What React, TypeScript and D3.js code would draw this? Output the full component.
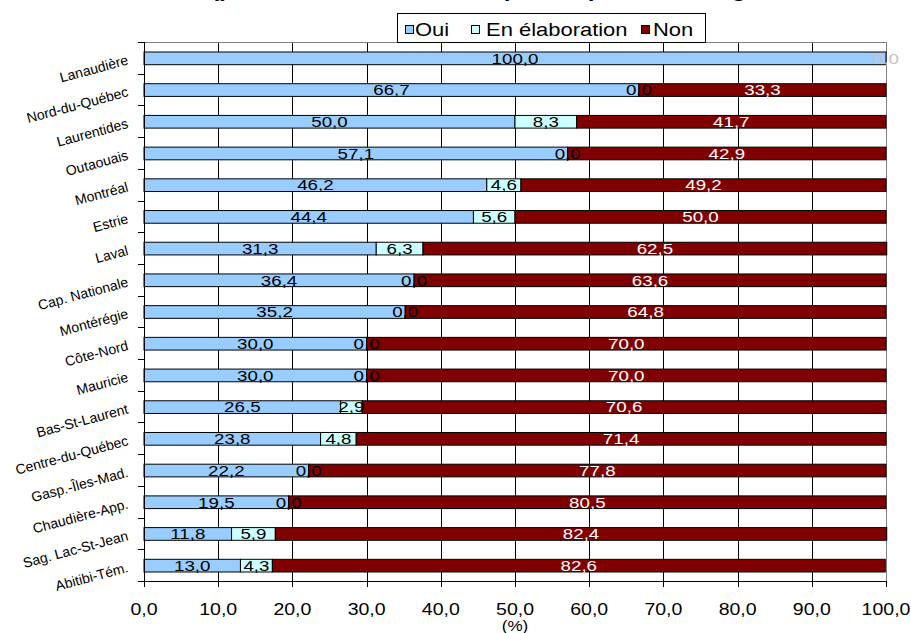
import React from "react";
import * as d3 from "d3";

const regions = [
  "Lanaudière", "Nord-du-Québec", "Laurentides", "Outaouais", "Montréal", "Estrie",
  "Laval", "Cap. Nationale", "Montérégie", "Côte-Nord", "Mauricie", "Bas-St-Laurent",
  "Centre-du-Québec", "Gasp.-Îles-Mad.", "Chaudière-App.", "Sag. Lac-St-Jean", "Abitibi-Tém.",
];
const oui = [100.0, 66.7, 50.0, 57.1, 46.2, 44.4, 31.3, 36.4, 35.2, 30.0, 30.0, 26.5, 23.8, 22.2, 19.5, 11.8, 13.0];
const elaboration = [0.0, 0.0, 8.3, 0.0, 4.6, 5.6, 6.3, 0.0, 0.0, 0.0, 0.0, 2.9, 4.8, 0.0, 0.0, 5.9, 4.3];
const non = [0.0, 33.3, 41.7, 42.9, 49.2, 50.0, 62.5, 63.6, 64.8, 70.0, 70.0, 70.6, 71.4, 77.8, 80.5, 82.4, 82.6];
const seriesNames = ["Oui", "En élaboration", "Non"];
const seriesColors = ["#99CCFF", "#CCFFFF", "#800000"];
const xTicks = [0, 10, 20, 30, 40, 50, 60, 70, 80, 90, 100];
const titleText = "(pour les établissements publics), selon la région";
const axisTitle = "(%)";

const W = 911;
const H = 633;
const M = { left: 144, right: 886, top: 42, bottom: 581 };
const FONT = "'Liberation Sans', Arial, sans-serif";
const SX = 1.22;

const fmt = (v: number) => v.toFixed(1).replace(".", ",");

function SText(props: {
  x: number; y: number; anchor?: string; size: number; fill?: string; bold?: boolean;
  sx?: number; stroke?: string; strokeWidth?: number; children: React.ReactNode;
}) {
  const { x, y, anchor = "middle", size, fill = "#000", bold, sx = SX, stroke, strokeWidth } = props;
  return (
    <text
      transform={`translate(${x},${y}) scale(${sx},1)`}
      textAnchor={anchor}
      fontSize={size}
      fontFamily={FONT}
      fontWeight={bold ? "bold" : "normal"}
      fill={fill}
      stroke={stroke}
      strokeWidth={strokeWidth}
    >
      {props.children}
    </text>
  );
}

export default function App() {
  const x = d3.scaleLinear().domain([0, 100]).range([M.left, M.right]);
  const y = d3.scaleBand<string>().domain(regions).range([M.top, M.bottom]).paddingInner(0.6).paddingOuter(0.3);
  const band = d3.scaleBand<string>().domain(regions).range([M.top, M.bottom]);
  const bh = y.bandwidth();

  const rows = regions.map((r, i) => {
    const vals = [oui[i], elaboration[i], non[i]];
    let acc = 0;
    const segs = vals.map((v, k) => {
      const s = { k, v, x0: acc, x1: acc + v };
      acc += v;
      return s;
    });
    return { r, segs };
  });

  const boundaries = regions.map((r) => band(r) as number).concat([M.bottom]);

  return (
    <svg width={W} height={H} style={{ position: "absolute", left: 0, top: 0, background: "#fff" }}>
      <rect x={0} y={0} width={W} height={H} fill="#fff" />
      {/* title (clipped at top) */}
      <SText x={211} y={-3} anchor="start" size={20} bold>{titleText}</SText>

      {/* gridlines */}
      {xTicks.slice(1, -1).map((t) => (
        <line key={"g" + t} x1={Math.round(x(t)) + 0.5} x2={Math.round(x(t)) + 0.5} y1={M.top} y2={M.bottom} stroke="#000" strokeWidth={1} />
      ))}
      {/* plot border top/right */}
      <line x1={M.left} x2={M.right + 0.5} y1={M.top + 0.5} y2={M.top + 0.5} stroke="#808080" />
      <line x1={M.right + 0.5} x2={M.right + 0.5} y1={M.top} y2={M.bottom} stroke="#808080" />

      {/* bars */}
      {rows.map((row) =>
        row.segs.map((s) => (
          <rect
            key={row.r + s.k}
            x={x(s.x0)}
            y={(y(row.r) as number) + 0.5}
            width={Math.max(0, x(s.x1) - x(s.x0))}
            height={bh}
            fill={seriesColors[s.k]}
            stroke="#000"
            strokeWidth={1}
          />
        ))
      )}

      {/* bar labels */}
      {rows.map((row, i) =>
        row.segs.map((s) => {
          if (s.k === 1 && non[i] === 0) return null;
          const cx = (x(s.x0) + x(s.x1)) / 2;
          const cy = (y(row.r) as number) + bh / 2 + 5.8;
          let fill = s.k === 2 ? "#fff" : "#000";
          if (s.k === 2 && s.v === 0) fill = "#c4c4c4";
          return (
            <SText key={"l" + row.r + s.k} x={cx} y={cy} size={15} fill={fill} sx={1.25}>
              {fmt(s.v)}
            </SText>
          );
        })
      )}

      {/* left axis */}
      <line x1={M.left + 0.5} x2={M.left + 0.5} y1={M.top} y2={M.bottom + 1} stroke="#000" />
      {boundaries.map((b, i) => (
        <line key={"yt" + i} x1={M.left - 6} x2={M.left} y1={Math.round(b) + 0.5} y2={Math.round(b) + 0.5} stroke="#000" />
      ))}
      {regions.map((r) => {
        const cy = (band(r) as number) + band.bandwidth() / 2 + 6.5;
        return (
          <text
            key={"yl" + r}
            transform={`translate(129,${cy}) rotate(-15)`}
            textAnchor="end"
            fontSize={14}
            fontFamily={FONT}
            fill="#000"
          >
            {r}
          </text>
        );
      })}

      {/* bottom axis */}
      <line x1={M.left} x2={M.right + 1} y1={M.bottom + 0.5} y2={M.bottom + 0.5} stroke="#000" />
      {xTicks.map((t) => (
        <g key={"xt" + t}>
          <line x1={Math.round(x(t)) + 0.5} x2={Math.round(x(t)) + 0.5} y1={M.bottom} y2={M.bottom + 6} stroke="#000" />
          <SText x={x(t)} y={615} size={16}>{fmt(t)}</SText>
        </g>
      ))}
      <SText x={(M.left + M.right) / 2} y={631} size={14}>{axisTitle}</SText>

      {/* legend */}
      <rect x={397.5} y={13.5} width={308} height={29} fill="#fff" stroke="#000" />
      {[
        { sq: 405, tx: 415 },
        { sq: 471, tx: 486 },
        { sq: 641, tx: 653 },
      ].map((p, k) => (
        <g key={"lg" + k}>
          <rect x={p.sq + 0.5} y={25.5} width={8} height={8} fill={seriesColors[k]} stroke="#000" />
          <SText x={p.tx} y={36} anchor="start" size={18}>{seriesNames[k]}</SText>
        </g>
      ))}
    </svg>
  );
}
